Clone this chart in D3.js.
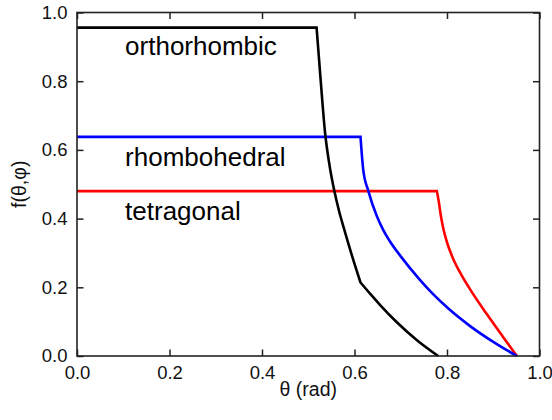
<!DOCTYPE html>
<html>
<head>
<meta charset="utf-8">
<script src="https://cdn.jsdelivr.net/npm/d3@7"></script>
<style>
  html, body { margin: 0; padding: 0; background: #fff; }
  svg { display: block; }
  text { font-family: Arial, "Liberation Sans", sans-serif; }
</style>
</head>
<body>
<svg id="chart" width="552" height="420"></svg>
<script>
// Fraction of orientations f(θ,φ) versus polar angle θ for three crystal phases
const xTicks = [0.0, 0.2, 0.4, 0.6, 0.8, 1.0];
const yTicks = [0.0, 0.2, 0.4, 0.6, 0.8, 1.0];

const orthoTheta = [0, 0.518, 0.527, 0.536, 0.546, 0.556, 0.567, 0.577, 0.595, 0.613, 0.634, 0.655, 0.691, 0.735, 0.781];
const orthoF     = [0.956, 0.956, 0.80, 0.655, 0.555, 0.483, 0.420, 0.372, 0.290, 0.214, 0.181, 0.149, 0.099, 0.046, 0];
// indices where the curve has a corner (plateau end, slope change)
const orthoCorners = [1, 9];

const rhomboTheta = [0, 0.613, 0.619, 0.630, 0.648, 0.662, 0.675, 0.700, 0.740, 0.770, 0.803, 0.850, 0.900, 0.951];
const rhomboF     = [0.638, 0.638, 0.541, 0.480, 0.408, 0.367, 0.337, 0.290, 0.224, 0.180, 0.138, 0.087, 0.041, 0];
const rhomboCorners = [1];

const tetraTheta = [0, 0.778, 0.782, 0.787, 0.792, 0.800, 0.814, 0.832, 0.850, 0.886, 0.922, 0.951];
const tetraF     = [0.48, 0.48, 0.451, 0.406, 0.371, 0.331, 0.281, 0.234, 0.194, 0.122, 0.054, 0];
const tetraCorners = [1];

const seriesNames  = ["orthorhombic", "rhombohedral", "tetragonal"];
const seriesColors = ["#000000", "#0000ff", "#ff0000"];
// label anchor positions in data units (θ, f)
const labelTheta = [0.104, 0.104, 0.104];
const labelF     = [0.876, 0.553, 0.396];

const series = [
  { name: seriesNames[0], color: seriesColors[0], pts: orthoTheta.map((t, i) => [t, orthoF[i]]), corners: orthoCorners },
  { name: seriesNames[1], color: seriesColors[1], pts: rhomboTheta.map((t, i) => [t, rhomboF[i]]), corners: rhomboCorners },
  { name: seriesNames[2], color: seriesColors[2], pts: tetraTheta.map((t, i) => [t, tetraF[i]]), corners: tetraCorners }
];

const margin = { left: 77, top: 12.5, right: 552 - 539.5, bottom: 420 - 356 };
const W = 552 - margin.left - margin.right;
const H = 420 - margin.top - margin.bottom;

const svg = d3.select("#chart");
const g = svg.append("g").attr("transform", `translate(${margin.left},${margin.top})`);

const x = d3.scaleLinear().domain([0, 1]).range([0, W]);
const y = d3.scaleLinear().domain([0, 1]).range([H, 0]);

// smooth monotone pieces between corners, joined into one path
const smooth = d3.line().x(d => x(d[0])).y(d => y(d[1])).curve(d3.curveMonotoneX);
function pathFor(s) {
  const cuts = [0, ...s.corners, s.pts.length - 1];
  let d = "";
  for (let k = 0; k < cuts.length - 1; k++) {
    const piece = smooth(s.pts.slice(cuts[k], cuts[k + 1] + 1));
    d += k === 0 ? piece : piece.replace(/^M/, "L");
  }
  return d;
}

g.append("g")
  .selectAll("path.series")
  .data(series.slice().reverse())
  .join("path")
  .attr("class", "series")
  .attr("fill", "none")
  .attr("stroke", d => d.color)
  .attr("stroke-width", 2.6)
  .attr("stroke-linejoin", "miter")
  .attr("d", pathFor);

// series labels
g.selectAll("text.lbl")
  .data(seriesNames)
  .join("text")
  .attr("class", "lbl")
  .attr("x", (d, i) => x(labelTheta[i]))
  .attr("y", (d, i) => y(labelF[i]))
  .attr("font-size", 26)
  .attr("fill", "#000")
  .text(d => d);

// axes with inward ticks on all four sides
const fmt = d3.format(".1f");
const tickLen = 6.5;
const axisColor = "#222";

const axBottom = g.append("g").attr("transform", `translate(0,${H})`)
  .call(d3.axisBottom(x).tickValues(xTicks).tickFormat(fmt).tickSizeInner(-tickLen).tickSizeOuter(0).tickPadding(10));
const axLeft = g.append("g")
  .call(d3.axisLeft(y).tickValues(yTicks).tickFormat(fmt).tickSizeInner(-tickLen).tickSizeOuter(0).tickPadding(9.5));
const axTop = g.append("g")
  .call(d3.axisTop(x).tickValues(xTicks).tickFormat("").tickSizeInner(-tickLen).tickSizeOuter(0));
const axRight = g.append("g").attr("transform", `translate(${W},0)`)
  .call(d3.axisRight(y).tickValues(yTicks).tickFormat("").tickSizeInner(-tickLen).tickSizeOuter(0));

[axBottom, axLeft, axTop, axRight].forEach(a => {
  a.select(".domain").remove();
  a.selectAll(".tick line").attr("stroke", axisColor).attr("stroke-width", 1.5);
  a.selectAll(".tick text").attr("font-size", 18.5).attr("fill", "#111").attr("font-family", "Arial, 'Liberation Sans', sans-serif");
});

// frame
g.append("rect")
  .attr("x", 0).attr("y", 0).attr("width", W).attr("height", H)
  .attr("fill", "none").attr("stroke", axisColor).attr("stroke-width", 1.6);

// axis titles
svg.append("text")
  .attr("x", margin.left + W / 2)
  .attr("y", 396)
  .attr("text-anchor", "middle")
  .attr("font-size", 19.5)
  .attr("fill", "#111")
  .text("θ (rad)");

svg.append("text")
  .attr("transform", `translate(26,${margin.top + H / 2}) rotate(-90)`)
  .attr("text-anchor", "middle")
  .attr("font-size", 19.5)
  .attr("fill", "#111")
  .text("f(θ,φ)");
</script>
</body>
</html>
